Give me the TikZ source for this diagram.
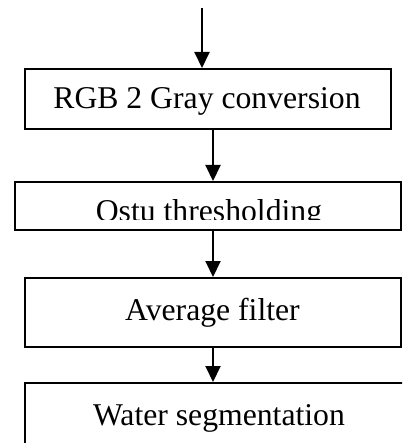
\documentclass[tikz,border=0pt]{standalone}
\usepackage{fontspec}
\setmainfont{Liberation Serif}
\usetikzlibrary{arrows.meta}
\tikzset{
  stage/.style={draw, line width=2pt, inner sep=0pt},
  caption/.style={font=\fontsize{31.7}{38}\selectfont, inner sep=0pt, anchor=base},
  flow/.style={line width=2pt, -{Triangle[length=16pt,width=15pt]}}
}
\begin{document}
\begin{tikzpicture}[x=1pt,y=-1pt]
\useasboundingbox (0,0) rectangle (402,443);
\clip (0,0) rectangle (402,443);

% processing stages
\node[stage, minimum width=366pt, minimum height=60pt] (gray) at (208,99) {};
\node[stage, minimum width=386pt, minimum height=48pt] (otsu) at (208,206) {};
\node[stage, minimum width=376pt, minimum height=69pt] (avg) at (213,312.5) {};
\node[stage, minimum width=415pt, minimum height=97pt] (water) at (232.5,431.5) {};

% stage labels
\node[caption] (tgray) at (207,109) {RGB 2 Gray conversion};
\begin{scope}
  \clip (otsu.north west) rectangle ([yshift=12pt]otsu.south east);
  \node[caption] (totsu) at (209,222) {Ostu thresholding};
\end{scope}
\node[caption] (tavg) at (212.5,320) {Average filter};
\node[caption] (twater) at (219,425) {Water segmentation};

% connectors
\coordinate (input) at (202,8);
\draw[flow] (input) -- (input |- gray.north);
\draw[flow] ([xshift=5pt]gray.south) -- ([xshift=5pt]gray.south |- otsu.north);
\draw[flow] ([xshift=5pt]otsu.south) -- ([xshift=5pt]otsu.south |- avg.north);
\draw[flow] (avg.south) -- (avg.south |- water.north);
\end{tikzpicture}
\end{document}
